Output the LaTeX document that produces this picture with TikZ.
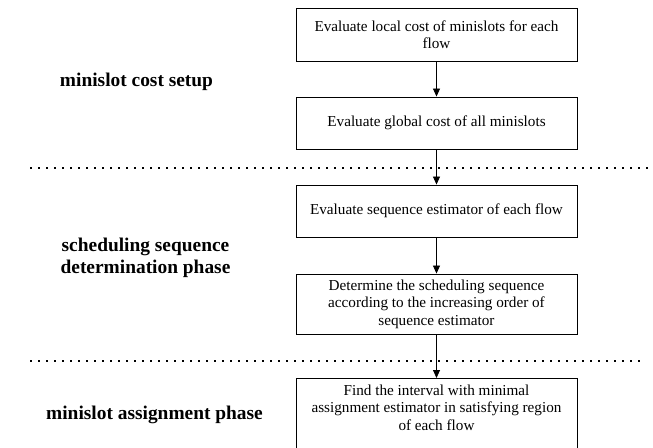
\documentclass[tikz,border=0pt]{standalone}
\usepackage{fontspec}
\setmainfont{Liberation Serif}
\usetikzlibrary{arrows.meta}

\tikzset{
  stepbox/.style={draw, line width=0.9pt, minimum width=281pt, align=center,
    font=\fontsize{15.2}{17.5}\selectfont, inner sep=0pt},
  phase/.style={align=center, font=\fontsize{19.4}{22}\selectfont\bfseries, inner sep=0pt},
  flow/.style={line width=0.8pt, -{Triangle[length=8pt,width=7pt]}},
  divider/.style={line width=1.3pt, dash pattern=on 2.2pt off 5.8pt},
}

\begin{document}
\begin{tikzpicture}[x=1pt, y=-1pt]
  \useasboundingbox (0,0) rectangle (653,447);

  % processing steps
  \node[stepbox, minimum height=53pt] (local)  at (436.5,34.5)
    {Evaluate local cost of minislots for each\\flow};
  \node[stepbox, minimum height=52pt] (global) at (436.5,123)
    {Evaluate global cost of all minislots};
  \node[stepbox, minimum height=52pt] (seqest) at (436.5,211)
    {Evaluate sequence estimator of each flow};
  \node[stepbox, minimum height=60pt] (order)  at (436.5,304)
    {Determine the scheduling sequence\\according to the increasing order of\\sequence estimator};
  \node[stepbox, anchor=north, inner ysep=6pt, text depth=32pt] (assign) at (436.5,378)
    {Find the interval with minimal\\assignment estimator in satisfying region\\of each flow};

  % connectors
  \draw[flow] (local)  -- (global);
  \draw[flow] (global) -- (seqest);
  \draw[flow] (seqest) -- (order);
  \draw[flow] (order)  -- (assign);

  % phase separators
  \coordinate (d1a) at (30,168);  \coordinate (d1b) at (653,168);
  \coordinate (d2a) at (30,361);  \coordinate (d2b) at (642,361);
  \draw[divider] (d1a) -- (d1b);
  \draw[divider] (d2a) -- (d2b);

  % phase labels
  \node[phase] (p1) at (136.5,81.5) {minislot cost setup};
  \node[phase] (p2) at (145.5,257.5) {scheduling sequence\\determination phase};
  \node[phase] (p3) at (154.5,415) {minislot assignment phase};
\end{tikzpicture}
\end{document}
